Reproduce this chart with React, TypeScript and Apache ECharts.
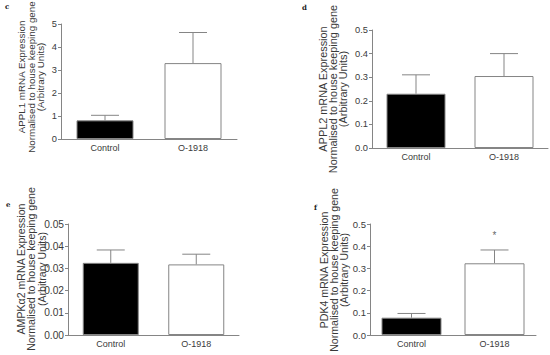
import React, { useEffect, useRef } from "react";
import * as echarts from "echarts";

const categories = ["Control", "O-1918"];

const appl1Mean = [0.81, 3.3];
const appl1Err = [0.22, 1.33];

const appl2Mean = [0.23, 0.305];
const appl2Err = [0.08, 0.095];

const ampkMean = [0.0325, 0.0318];
const ampkErr = [0.0058, 0.0046];

const pdk4Mean = [0.078, 0.323];
const pdk4Err = [0.019, 0.06];

const pdk4Sig = [[1, 0.45]];

const panels = [
  { letter: "c", title: "APPL1 mRNA Expression", mean: appl1Mean, err: appl1Err, max: 5, interval: 1, dec: 0 },
  { letter: "d", title: "APPL2 mRNA Expression", mean: appl2Mean, err: appl2Err, max: 0.5, interval: 0.1, dec: 1 },
  { letter: "e", title: "AMPKα2 mRNA Expression", mean: ampkMean, err: ampkErr, max: 0.05, interval: 0.01, dec: 2 },
  { letter: "f", title: "PDK4 mRNA Expression", mean: pdk4Mean, err: pdk4Err, max: 0.5, interval: 0.1, dec: 1 },
];
const subTitle = "Normalised to house keeping gene\n(Arbitrary Units)";

const grids = [
  { left: 61, top: 24, width: 176, height: 115 },
  { left: 372, top: 30, width: 176, height: 118 },
  { left: 68, top: 224, width: 171, height: 111 },
  { left: 370, top: 224, width: 166, height: 111 },
];
const titlePos = [
  [31, 77],
  [333, 89],
  [31, 269],
  [334, 270],
];
const titleFont = [9.8, 10.9, 10.6, 10.6];
const titleLine = [9.7, 9.7, 10.5, 10];
const tickFont = [9.3, 9.3, 10.2, 9.5];
const barWidths = [57, 59, 56, 60];
const letterPos = [
  [5, 3],
  [302, 4],
  [6, 201],
  [314, 204],
];

const GRAY = "#858585";
const TXT = "#3a3a3a";
const FONT = "Liberation Sans, Arial, sans-serif";

export default function App() {
  const ref = useRef<HTMLDivElement>(null);
  useEffect(() => {
    if (!ref.current) return;
    const chart = echarts.init(ref.current, null, { renderer: "svg" });
    const xAxis: any[] = [];
    const yAxis: any[] = [];
    const series: any[] = [];
    panels.forEach((p, i) => {
      xAxis.push({
        type: "category",
        gridIndex: i,
        data: categories,
        axisLine: { lineStyle: { color: GRAY, width: 1 } },
        axisTick: { show: false },
        axisLabel: { color: TXT, fontSize: 9, fontFamily: FONT, margin: 4 },
      });
      yAxis.push({
        type: "value",
        gridIndex: i,
        min: 0,
        max: p.max,
        interval: p.interval,
        splitLine: { show: false },
        axisLine: { show: true, lineStyle: { color: GRAY, width: 1 } },
        axisTick: { show: true, length: 3, lineStyle: { color: GRAY } },
        axisLabel: {
          color: TXT,
          fontSize: tickFont[i],
          fontFamily: FONT,
          margin: 4,
          formatter: (v: number) => v.toFixed(p.dec),
        },
      });
      series.push({
        type: "bar",
        xAxisIndex: i,
        yAxisIndex: i,
        barWidth: barWidths[i],
        data: p.mean.map((v, k) => ({
          value: v,
          itemStyle: { color: k === 0 ? "#000" : "#fff", borderColor: GRAY, borderWidth: 1 },
        })),
        z: 3,
      });
      const errData = p.mean.map((v, k) => [k, v, v + p.err[k]]);
      series.push({
        type: "custom",
        xAxisIndex: i,
        yAxisIndex: i,
        data: errData,
        z: 2,
        renderItem: (params: any, api: any) => {
          const x = api.value(0);
          const lo = api.coord([x, api.value(1)]);
          const hi = api.coord([x, api.value(2)]);
          const half = 14;
          return {
            type: "group",
            children: [
              { type: "line", shape: { x1: lo[0], y1: lo[1], x2: hi[0], y2: hi[1] }, style: { stroke: GRAY, lineWidth: 1 } },
              { type: "line", shape: { x1: hi[0] - half, y1: hi[1], x2: hi[0] + half, y2: hi[1] }, style: { stroke: GRAY, lineWidth: 1 } },
            ],
          };
        },
      });
    });
    series.push({
      type: "scatter",
      xAxisIndex: 3,
      yAxisIndex: 3,
      data: pdk4Sig,
      symbolSize: 0,
      label: { show: true, formatter: "*", position: "inside", color: TXT, fontSize: 10, fontFamily: FONT },
    });

    chart.setOption({
      animation: false,
      backgroundColor: "#fff",
      grid: grids.map((g) => ({ ...g, containLabel: false, outerBoundsMode: "none" })),
      xAxis,
      yAxis,
      series,
      graphic: [
        ...panels.map((p, i) => ({
          type: "text",
          left: letterPos[i][0],
          top: letterPos[i][1],
          style: { text: p.letter, fontSize: 7, fontWeight: "bold", fontFamily: "DejaVu Serif, serif", fill: "#222" },
        })),
        ...panels.map((p, i) => ({
          type: "text",
          x: titlePos[i][0],
          y: titlePos[i][1],
          rotation: Math.PI / 2,
          style: {
            text: p.title + "\n" + subTitle,
            fontSize: titleFont[i],
            lineHeight: titleLine[i],
            fontFamily: FONT,
            fill: TXT,
            align: "center",
            verticalAlign: "middle",
          },
        })),
      ],
    });
    return () => chart.dispose();
  }, []);
  return <div ref={ref} style={{ position: "absolute", left: 0, top: 0, width: 550, height: 355 }} />;
}
